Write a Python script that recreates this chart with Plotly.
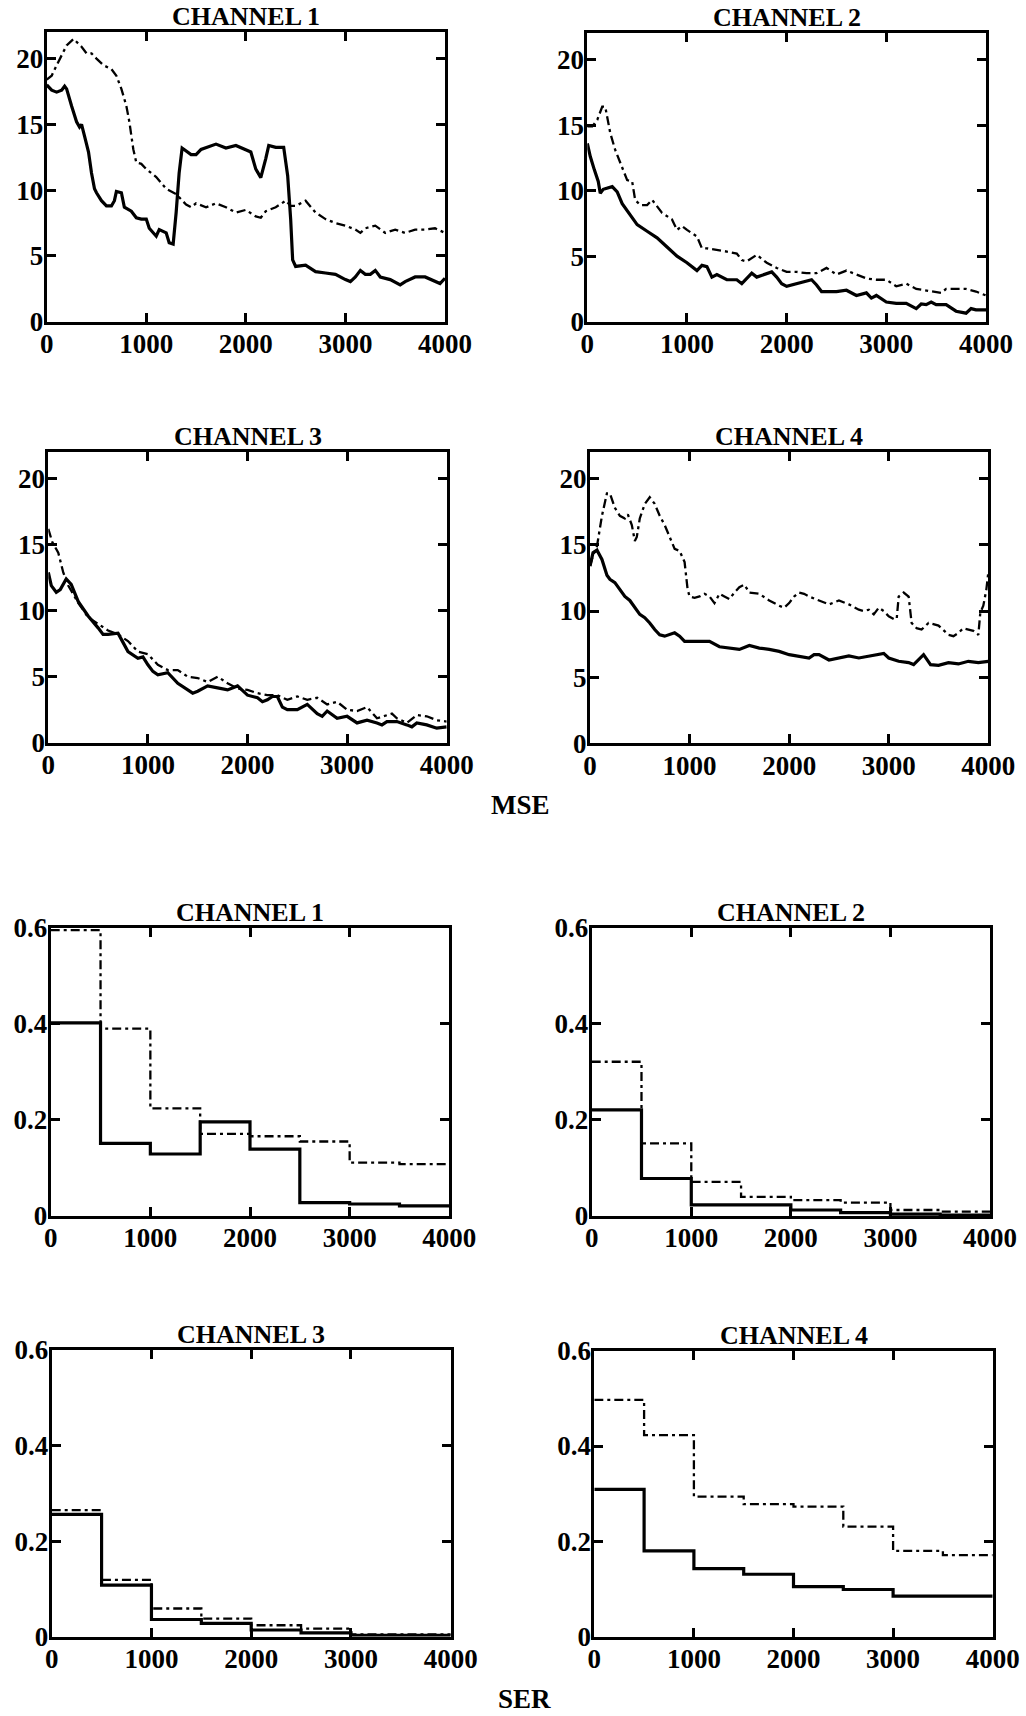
import plotly.graph_objects as go

# ---------------- MSE curves (sample index vs. mean squared error) ----------------
mse_ch1_solid_x = [0, 50, 100, 150, 180, 200, 250, 300, 330, 350, 380, 420, 450, 480, 500, 550, 600, 650,
                   680, 700, 750, 780, 850, 900, 950, 1000, 1030, 1100, 1130, 1200, 1230, 1270, 1300, 1330,
                   1360, 1450, 1500, 1550, 1700, 1800, 1900, 2000, 2050, 2100, 2150, 2200, 2230, 2300, 2380,
                   2420, 2450, 2470, 2500, 2600, 2700, 2800, 2900, 3000, 3050, 3100, 3150, 3200, 3250, 3300,
                   3350, 3450, 3550, 3600, 3700, 3800, 3900, 3950, 4000]
mse_ch1_solid_y = [18.0, 17.6, 17.45, 17.6, 17.9, 17.7, 16.4, 15.2, 14.8, 15.0, 14.1, 12.9, 11.3, 10.1, 9.8, 9.2,
                   8.8, 8.8, 9.2, 9.9, 9.8, 8.7, 8.4, 7.9, 7.8, 7.8, 7.1, 6.5, 7.0, 6.75, 6.0, 5.9, 8.3, 11.3,
                   13.2, 12.7, 12.7, 13.1, 13.5, 13.2, 13.4, 13.1, 12.9, 11.6, 10.95, 12.4, 13.4, 13.25, 13.25,
                   11.1, 7.8, 4.7, 4.2, 4.3, 3.8, 3.7, 3.6, 3.2, 3.05, 3.4, 3.9, 3.6, 3.6, 3.9,
                   3.4, 3.2, 2.8, 3.05, 3.4, 3.4, 3.05, 2.9, 3.3]
mse_ch1_dash_x = [0, 50, 100, 150, 200, 270, 350, 400, 450, 500, 570, 650, 700, 750, 800, 830, 870, 900, 950,
                  1000, 1100, 1200, 1250, 1300, 1400, 1450, 1500, 1600, 1700, 1800, 1900, 2000, 2100, 2150,
                  2200, 2300, 2400, 2450, 2500, 2600, 2700, 2800, 2900, 3000, 3100, 3150, 3200, 3300, 3400,
                  3500, 3600, 3700, 3800, 3900, 4000]
mse_ch1_dash_y = [18.4, 18.7, 19.5, 20.25, 21.0, 21.5, 20.9, 20.4, 20.4, 20.0, 19.5, 19.2, 18.7, 17.7, 16.4,
                  15.2, 13.1, 12.1, 12.0, 11.6, 11.0, 10.1, 9.9, 9.7, 8.9, 8.7, 9.0, 8.7, 9.0, 8.7, 8.3, 8.5,
                  8.0, 7.9, 8.4, 8.7, 9.2, 8.8, 8.8, 9.2, 8.3, 7.8, 7.5, 7.3, 7.0, 6.75, 7.1, 7.3, 6.75,
                  7.0, 6.75, 7.0, 7.0, 7.1, 6.75]

mse_ch2_solid_x = [0, 30, 70, 110, 130, 160, 250, 300, 350, 400, 450, 500, 600, 700, 800, 900, 1000, 1100,
                   1150, 1200, 1250, 1300, 1400, 1500, 1550, 1600, 1650, 1700, 1800, 1850, 1900, 1950, 2000,
                   2100, 2200, 2250, 2300, 2350, 2400, 2500, 2600, 2700, 2800, 2850, 2900, 3000, 3100, 3200,
                   3300, 3350, 3400, 3450, 3500, 3600, 3700, 3800, 3850, 3900, 4000]
mse_ch2_solid_y = [13.6, 12.6, 11.6, 10.7, 9.8, 10.1, 10.3, 9.9, 9.0, 8.5, 7.9, 7.4, 6.9, 6.4, 5.7, 5.0, 4.5,
                   3.9, 4.3, 4.2, 3.4, 3.6, 3.2, 3.2, 2.9, 3.3, 3.7, 3.4, 3.7, 3.8, 3.4, 2.9, 2.7, 2.9, 3.05,
                   3.2, 2.8, 2.3, 2.3, 2.3, 2.4, 2.0, 2.2, 1.8, 2.0, 1.5, 1.4, 1.4, 1.0, 1.35, 1.3, 1.5, 1.3,
                   1.3, 0.8, 0.65, 1.0, 0.9, 0.9]
mse_ch2_dash_x = [0, 50, 100, 150, 180, 230, 280, 350, 400, 450, 480, 530, 600, 650, 750, 850, 900, 950, 1000,
                  1100, 1150, 1200, 1300, 1400, 1500, 1550, 1600, 1700, 1800, 1900, 2000, 2100, 2200, 2300,
                  2400, 2500, 2600, 2700, 2800, 2900, 3000, 3100, 3200, 3300, 3400, 3500, 3550, 3600, 3700,
                  3800, 3900, 4000]
mse_ch2_dash_y = [14.9, 14.9, 15.4, 16.4, 16.4, 14.4, 13.1, 11.8, 10.8, 10.7, 9.3, 8.9, 8.9, 9.3, 8.3, 7.8,
                  7.0, 7.3, 7.0, 6.5, 5.6, 5.6, 5.5, 5.35, 5.2, 4.7, 4.6, 5.1, 4.5, 4.1, 3.8, 3.8, 3.7, 3.7,
                  4.1, 3.6, 3.9, 3.6, 3.3, 3.2, 3.2, 2.7, 2.9, 2.5, 2.4, 2.3, 2.2, 2.5, 2.5, 2.5, 2.3, 2.0]

mse_ch3_solid_x = [0, 30, 80, 120, 180, 230, 300, 400, 500, 550, 600, 700, 750, 800, 900, 950, 1000, 1050,
                   1100, 1200, 1300, 1400, 1450, 1500, 1600, 1700, 1800, 1900, 2000, 2100, 2150, 2200, 2250,
                   2300, 2350, 2400, 2500, 2600, 2700, 2750, 2800, 2900, 3000, 3100, 3200, 3300, 3350, 3400,
                   3500, 3600, 3650, 3700, 3800, 3900, 4000]
mse_ch3_solid_y = [12.9, 11.9, 11.4, 11.6, 12.4, 12.0, 10.7, 9.6, 8.7, 8.2, 8.2, 8.3, 7.6, 6.9, 6.4, 6.5, 5.9,
                   5.4, 5.15, 5.3, 4.5, 4.0, 3.75, 3.9, 4.3, 4.15, 4.0, 4.3, 3.6, 3.4, 3.1, 3.25, 3.5, 3.5,
                   2.7, 2.5, 2.5, 2.9, 2.2, 2.0, 2.4, 1.85, 2.0, 1.5, 1.7, 1.5, 1.35, 1.6, 1.6, 1.35, 1.2,
                   1.5, 1.35, 1.1, 1.2]
mse_ch3_dash_x = [0, 40, 100, 150, 200, 300, 400, 500, 600, 700, 800, 900, 1000, 1100, 1200, 1300, 1400, 1500,
                  1600, 1700, 1800, 1900, 2000, 2100, 2200, 2300, 2400, 2500, 2600, 2700, 2800, 2900, 3000,
                  3100, 3200, 3300, 3400, 3450, 3500, 3600, 3700, 3800, 3900, 4000]
mse_ch3_dash_y = [16.2, 15.2, 14.4, 12.9, 11.9, 10.6, 9.5, 9.0, 8.5, 8.2, 7.7, 6.9, 6.7, 5.9, 5.5, 5.5, 5.0,
                  4.9, 4.6, 5.0, 4.5, 4.1, 4.0, 3.75, 3.6, 3.6, 3.25, 3.5, 3.25, 3.4, 2.9, 3.1, 2.5, 2.4,
                  2.7, 1.85, 2.1, 2.2, 1.85, 1.5, 2.1, 2.0, 1.7, 1.6]

mse_ch4_solid_x = [0, 30, 70, 120, 170, 200, 250, 300, 350, 400, 450, 500, 550, 600, 650, 700, 750, 800, 850,
                   900, 950, 1000, 1100, 1200, 1300, 1400, 1500, 1600, 1700, 1800, 1900, 2000, 2100, 2200,
                   2250, 2300, 2400, 2500, 2600, 2700, 2800, 2900, 2950, 3000, 3100, 3200, 3250, 3350, 3420,
                   3500, 3600, 3700, 3800, 3900, 4000]
mse_ch4_solid_y = [13.4, 14.4, 14.6, 13.9, 12.7, 12.4, 12.15, 11.6, 11.1, 10.8, 10.25, 9.75, 9.5, 9.1, 8.6,
                   8.2, 8.1, 8.2, 8.35, 8.1, 7.7, 7.7, 7.7, 7.7, 7.3, 7.2, 7.1, 7.4, 7.2, 7.1, 6.95, 6.7,
                   6.6, 6.45, 6.7, 6.7, 6.3, 6.45, 6.6, 6.45, 6.6, 6.7, 6.8, 6.45, 6.2, 6.1, 5.95, 6.7, 5.95,
                   5.9, 6.1, 6.0, 6.2, 6.1, 6.2]
mse_ch4_dash_x = [0, 30, 70, 120, 170, 200, 250, 300, 350, 380, 420, 450, 470, 500, 550, 600, 650, 700, 750,
                  800, 850, 900, 950, 980, 1000, 1050, 1100, 1150, 1200, 1250, 1300, 1350, 1400, 1450, 1500,
                  1550, 1600, 1700, 1800, 1900, 1950, 2000, 2050, 2100, 2150, 2200, 2300, 2400, 2500, 2600,
                  2700, 2750, 2800, 2850, 2900, 2950, 3000, 3050, 3080, 3100, 3150, 3200, 3230, 3280, 3330,
                  3400, 3500, 3600, 3650, 3700, 3750, 3800, 3850, 3900, 3920, 3950, 3980, 4000]
mse_ch4_dash_y = [13.4, 14.2, 14.9, 17.2, 18.9, 18.9, 17.8, 17.2, 17.0, 17.3, 16.5, 15.3, 15.6, 17.0, 18.1,
                  18.6, 18.1, 17.2, 16.5, 15.6, 14.7, 14.55, 13.7, 11.65, 11.1, 11.0, 11.1, 11.3, 11.1, 10.6,
                  11.3, 11.1, 10.9, 11.4, 11.8, 12.0, 11.4, 11.3, 10.8, 10.4, 10.25, 10.6, 11.1, 11.4, 11.3,
                  11.1, 10.8, 10.5, 10.8, 10.5, 10.1, 10.0, 10.1, 9.75, 10.25, 10.0, 9.6, 9.4, 9.4, 11.1,
                  11.4, 11.1, 9.1, 8.7, 8.6, 9.1, 8.9, 8.2, 8.1, 8.35, 8.7, 8.6, 8.5, 8.2, 9.9, 10.4, 11.6,
                  12.9]

# ---------------- SER (symbol error rate per 500-sample block) ----------------
ser_block_edges = [0, 500, 1000, 1500, 2000, 2500, 3000, 3500, 4000]
ser_ch1_solid = [0.402, 0.151, 0.129, 0.196, 0.139, 0.028, 0.025, 0.021]
ser_ch1_dash = [0.595, 0.390, 0.224, 0.171, 0.166, 0.155, 0.111, 0.108]
ser_ch2_solid = [0.221, 0.078, 0.023, 0.023, 0.0125, 0.007, 0.004, 0.002]
ser_ch2_dash = [0.321, 0.151, 0.071, 0.040, 0.033, 0.028, 0.0125, 0.009]
ser_ch3_solid = [0.256, 0.108, 0.036, 0.028, 0.014, 0.008, 0.003, 0.003]
ser_ch3_dash = [0.265, 0.119, 0.059, 0.038, 0.024, 0.017, 0.005, 0.005]
ser_ch4_solid = [0.309, 0.180, 0.143, 0.131, 0.105, 0.099, 0.085, 0.085]
ser_ch4_dash = [0.497, 0.423, 0.294, 0.278, 0.273, 0.231, 0.180, 0.171]

panel_titles = ["CHANNEL 1", "CHANNEL 2", "CHANNEL 3", "CHANNEL 4"]
x_ticks = [0, 1000, 2000, 3000, 4000]
mse_y_ticks = [0, 5, 10, 15, 20]
ser_y_ticks = [0, 0.2, 0.4, 0.6]
ser_y_labels = ["0", "0.2", "0.4", "0.6"]

W, H = 1026, 1716
FONT = "Liberation Serif"

# Plot-area boxes in pixels: (left, right, top, bottom)
boxes = [
    (46.7, 445.0, 32.3, 321.7), (587.3, 986.0, 33.3, 321.7),
    (48.3, 446.7, 452.3, 742.7), (590.0, 988.3, 452.3, 743.3),
    (50.7, 449.3, 927.7, 1216.0), (591.7, 990.0, 927.7, 1216.0),
    (51.7, 450.7, 1350.0, 1636.7), (594.3, 992.7, 1350.7, 1636.7),
]

mse_series = [
    (mse_ch1_solid_x, mse_ch1_solid_y, mse_ch1_dash_x, mse_ch1_dash_y),
    (mse_ch2_solid_x, mse_ch2_solid_y, mse_ch2_dash_x, mse_ch2_dash_y),
    (mse_ch3_solid_x, mse_ch3_solid_y, mse_ch3_dash_x, mse_ch3_dash_y),
    (mse_ch4_solid_x, mse_ch4_solid_y, mse_ch4_dash_x, mse_ch4_dash_y),
]
ser_series = [
    (ser_ch1_solid, ser_ch1_dash), (ser_ch2_solid, ser_ch2_dash),
    (ser_ch3_solid, ser_ch3_dash), (ser_ch4_solid, ser_ch4_dash),
]

SOLID = dict(color="black", width=3.2)
DASHDOT = dict(color="black", width=2.3, dash="9px,4px,3px,4px")

fig = go.Figure()
layout = dict(
    width=W, height=H, margin=dict(l=0, r=0, t=0, b=0, autoexpand=False), autosize=False,
    paper_bgcolor="white", plot_bgcolor="white", showlegend=False,
)
annotations = []

tick_font = dict(family=FONT, size=27, color="black", weight="bold")

for i, (l, r, t, b) in enumerate(boxes):
    n = i + 1
    xa = "x" if n == 1 else f"x{n}"
    ya = "y" if n == 1 else f"y{n}"
    is_mse = i < 4

    if is_mse:
        sx, sy, dx, dy = mse_series[i]
        fig.add_trace(go.Scatter(x=dx, y=dy, mode="lines", line=DASHDOT, xaxis=xa, yaxis=ya))
        fig.add_trace(go.Scatter(x=sx, y=sy, mode="lines", line=SOLID, xaxis=xa, yaxis=ya))
    else:
        solid, dash = ser_series[i - 4]
        fig.add_trace(go.Scatter(x=ser_block_edges, y=dash + dash[-1:], mode="lines",
                                 line=dict(DASHDOT, shape="hv"), xaxis=xa, yaxis=ya))
        fig.add_trace(go.Scatter(x=ser_block_edges, y=solid + solid[-1:], mode="lines",
                                 line=dict(SOLID, shape="hv"), xaxis=xa, yaxis=ya))

    axis_common = dict(
        showline=True, linecolor="black", linewidth=3, mirror="ticks",
        ticks="inside", ticklen=9, tickwidth=2.5, tickcolor="black",
        showgrid=False, zeroline=False, tickfont=tick_font, automargin=False,
    )
    layout["xaxis" if n == 1 else f"xaxis{n}"] = dict(
        axis_common, domain=[l / W, r / W], range=[0, 4000],
        tickvals=x_ticks, ticklabelstandoff=-4,
        anchor=ya,
    )
    if is_mse:
        yextra = dict(range=[0, 22], tickvals=mse_y_ticks)
    else:
        yextra = dict(range=[0, 0.6], tickvals=ser_y_ticks, ticktext=ser_y_labels)
    layout["yaxis" if n == 1 else f"yaxis{n}"] = dict(
        axis_common, domain=[1 - b / H, 1 - t / H], anchor=xa,
        ticklabelstandoff=-5, **yextra,
    )

    annotations.append(dict(
        text=panel_titles[i % 4], x=(l + r) / 2 / W, y=1 - (t + 1) / H,
        xref="paper", yref="paper", xanchor="center", yanchor="bottom",
        showarrow=False, font=dict(family=FONT, size=26, color="black", weight="bold"),
    ))

for label, cx, cy in [("MSE", 520, 805), ("SER", 524, 1699)]:
    annotations.append(dict(
        text=label, x=cx / W, y=1 - cy / H, xref="paper", yref="paper",
        xanchor="center", yanchor="middle", showarrow=False,
        font=dict(family=FONT, size=27, color="black", weight="bold"),
    ))

layout["annotations"] = annotations
fig.update_layout(**layout)
fig.write_html(
    "out.html",
    post_script="document.body.style.margin='0';document.body.style.overflow='hidden';",
)
